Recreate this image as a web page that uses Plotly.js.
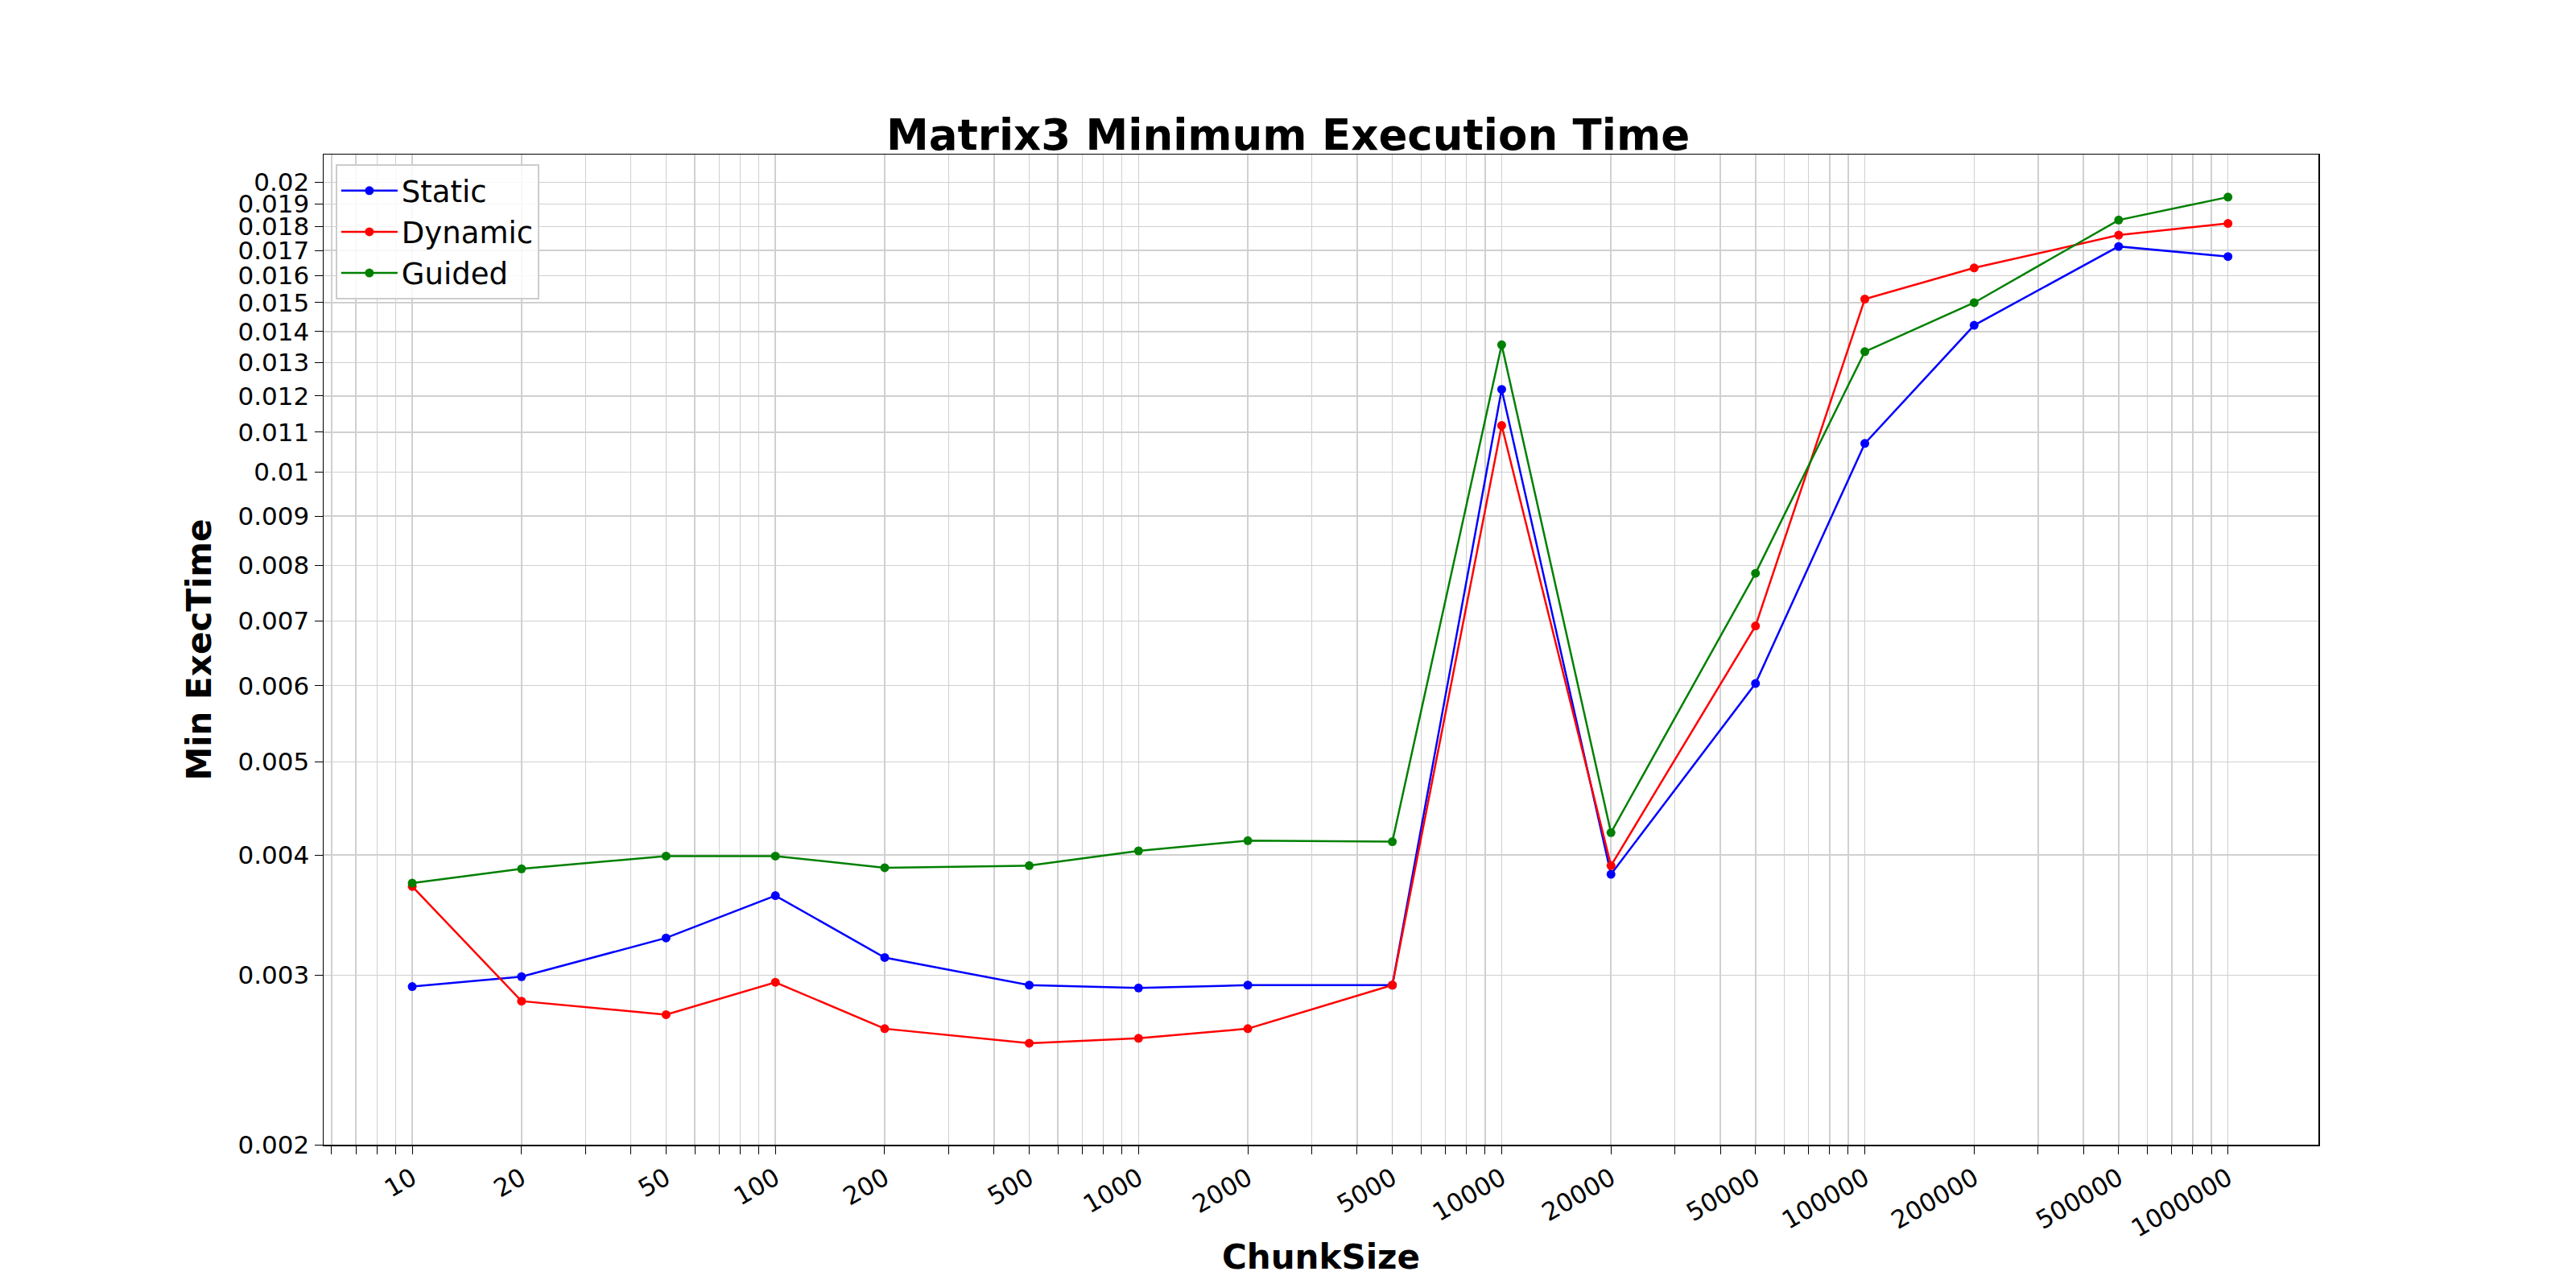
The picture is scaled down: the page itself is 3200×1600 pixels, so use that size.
<!DOCTYPE html>
<html><head><meta charset="utf-8">
<script src="https://cdn.plot.ly/plotly-3.0.1.min.js"></script>
<style>body{margin:0;background:#fff}</style></head>
<body><div id="gd" style="width:3200px;height:1600px"></div>
<script>
var chunkSizes = [10, 20, 50, 100, 200, 500, 1000, 2000, 5000, 10000, 20000, 50000, 100000, 200000, 500000, 1000000];
var staticTimes = [0.00292, 0.00299, 0.00328, 0.00363, 0.00313, 0.00293, 0.00291, 0.00293, 0.00293, 0.01219, 0.00382, 0.00603, 0.01071, 0.01421, 0.01716, 0.01675];
var dynamicTimes = [0.00371, 0.00282, 0.00273, 0.00295, 0.00264, 0.00255, 0.00258, 0.00264, 0.00293, 0.01118, 0.00390, 0.00692, 0.01513, 0.01630, 0.01763, 0.01813];
var guidedTimes = [0.00374, 0.00387, 0.00399, 0.00399, 0.00388, 0.00390, 0.00404, 0.00414, 0.00413, 0.01356, 0.00422, 0.00785, 0.01334, 0.01500, 0.01828, 0.01931];
var yTickVals = [0.002, 0.003, 0.004, 0.005, 0.006, 0.007, 0.008, 0.009, 0.01, 0.011, 0.012, 0.013, 0.014, 0.015, 0.016, 0.017, 0.018, 0.019, 0.02];

var xTickVals = [], xTickText = [];
for (var p = 0; p <= 6; p++) {
  for (var d = 1; d <= 9; d++) {
    var v = d * Math.pow(10, p);
    if (v < 6 || v > 2e6) continue;
    xTickVals.push(v);
    xTickText.push(chunkSizes.indexOf(v) >= 0 ? String(v) : '');
  }
}

function series(name, y, color) {
  return {x: chunkSizes, y: y, name: name, type: 'scatter', mode: 'lines+markers',
    line: {color: color, width: 2.5}, marker: {color: color, size: 11}};
}

var font = 'DejaVu Sans, sans-serif';
var layout = {
  width: 3200, height: 1600,
  margin: {l: 402, r: 320, t: 192, b: 178},
  paper_bgcolor: '#fff', plot_bgcolor: '#fff',
  font: {family: font, color: '#000', size: 31},
  title: {text: '<b>Matrix3 Minimum Execution Time</b>', font: {size: 53},
    x: 0.5, xanchor: 'center', yref: 'paper', y: 1, yanchor: 'bottom', pad: {b: 6}},
  showlegend: true,
  legend: {x: 0.006, y: 0.99, xanchor: 'left', yanchor: 'top', bgcolor: 'rgba(255,255,255,0.85)',
    bordercolor: '#ccc', borderwidth: 2, font: {size: 37}, itemwidth: 70},
  xaxis: {type: 'log', range: [0.756, 6.249], tickvals: xTickVals, ticktext: xTickText,
    tickangle: -30, ticks: 'outside', ticklen: 10, tickcolor: '#000',
    showgrid: true, gridcolor: '#d0d0d0', gridwidth: 1.5, zeroline: false,
    showline: true, linecolor: '#000', linewidth: 1.5, mirror: true,
    title: {text: '<b>ChunkSize</b>', font: {size: 42}, standoff: 4}},
  yaxis: {type: 'log', range: [Math.log10(0.002), -1.670], tickvals: yTickVals,
    ticktext: yTickVals.map(String), ticks: 'outside', ticklen: 10, tickcolor: '#000',
    showgrid: true, gridcolor: '#d0d0d0', gridwidth: 1.5, zeroline: false,
    showline: true, linecolor: '#000', linewidth: 1.5, mirror: true,
    title: {text: '<b>Min ExecTime</b>', font: {size: 42}, standoff: 20}}
};

Plotly.newPlot('gd', [
  series('Static', staticTimes, '#0000ff'),
  series('Dynamic', dynamicTimes, '#ff0000'),
  series('Guided', guidedTimes, '#008000')
], layout, {staticPlot: true});
</script></body></html>
